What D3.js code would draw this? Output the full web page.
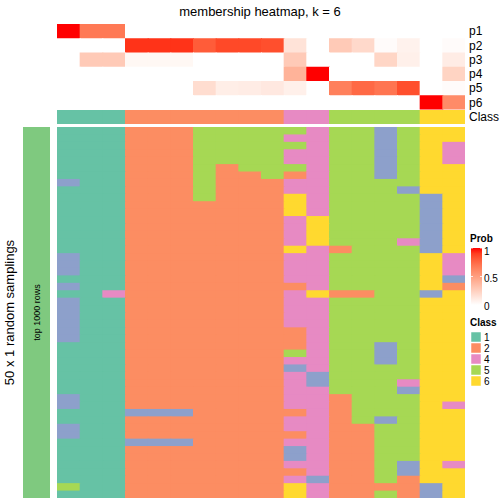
<!DOCTYPE html>
<html><head><meta charset="utf-8">
<script src="https://cdn.jsdelivr.net/npm/d3@7"></script>
<style>body{margin:0;background:#fff}svg{display:block}text{font-family:"Liberation Sans",Arial,Helvetica,sans-serif}</style>
</head><body>
<svg id="c" width="504" height="504"></svg>
<script>
const title = "membership heatmap, k = 6";
const probLabels = ["p1","p2","p3","p4","p5","p6"];
const p1 = [1,0.68,0.68,0,0,0,0,0,0,0,0,0,0,0,0,0,0,0];
const p2 = [0,0,0,0.93,0.93,0.93,0.8,0.87,0.87,0.85,0.15,0,0.28,0.2,0.02,0.07,0,0.02];
const p3 = [0,0.28,0.28,0.04,0.04,0.04,0,0,0,0,0.28,0,0,0,0.22,0.08,0,0.1];
const p4 = [0,0,0,0,0,0,0,0,0,0,0.4,1,0,0,0,0,0,0.23];
const p5 = [0,0,0,0,0,0,0.18,0.09,0.1,0.12,0.08,0,0.65,0.75,0.7,0.85,0,0.02];
const p6 = [0,0,0,0,0,0,0,0,0,0,0,0,0,0,0,0,1,0.6];
const classRow = [1,1,1,2,2,2,2,2,2,2,4,4,5,5,5,5,6,6];
const classKeys = [1,2,3,4,5,6];
const classColors = ["#66C2A5","#FC8D62","#8DA0CB","#E78AC3","#A6D854","#FFD92F"];
const legendClasses = ["1","2","4","5","6"];
const probTicks = [1,0.5,0];
const samplings = [
"111222555554553566","111222555544553566","111222555554553564","111222555544553564","111222555544553564",
"111222525554553566","111222522524553566","311222522244555566","111222522244555366","111222522264555536",
"111222222264555536","111222222264555536","111222222246555536","111222222246555536","111222222246555536",
"111222222246555436","111222222264255536","311222222244555564","311222222244555564","311222222244555564",
"111222222244555563","311222222224555562","114222222246225536","311222222244555566","311222222244555566",
"311222222244555566","311222222244555566","311222222224555566","311222222224555566","111222222224553566",
"111222222254553566","111222222244553566","111222222234555566","111222222243555566","111222222243555466",
"111222222244555366","311222222244255566","311222222244255564","111333222224255566","111222222244253566",
"311222222244225566","311222222224225566","111333222244225566","111222222234225566","111222222234225566",
"111222222244225364","111222222224225366","111222222243225266","511222222264222236","111222222264225236"
];

const svg = d3.select("#c");
const nCol = classRow.length;
const x = d3.scaleBand().domain(d3.range(nCol)).range([57,465]).paddingInner(0);
const probColor = d3.scaleLinear().domain([0,1]).range(["#ffffff","#ff0000"]).interpolate(d3.interpolateLab);
const clsColor = d3.scaleOrdinal().domain(classKeys).range(classColors);
// widths overlap the next cell by 1px (except last) to hide anti-aliasing seams
const cw = j => x.bandwidth() + (j < nCol-1 ? 1 : 0);

svg.append("text").attr("x",260).attr("y",16).attr("text-anchor","middle").attr("font-size",13).text(title);

const probs = [p1,p2,p3,p4,p5,p6];
const yP = d3.scaleBand().domain(probLabels).range([24,109.5]);
probs.forEach((arr,i)=>{
  svg.append("g").selectAll("rect").data(arr).join("rect")
    .attr("x",(d,j)=>x(j)).attr("y",yP(probLabels[i]))
    .attr("width",(d,j)=>cw(j)).attr("height",yP.bandwidth()+(i<5?1:0))
    .attr("fill",d=>probColor(d));
});
probs.forEach((arr,i)=>{
  svg.append("text").attr("x",469).attr("y",yP(probLabels[i])+yP.bandwidth()/2)
    .attr("dy","0.35em").attr("font-size",12).text(probLabels[i]);
});
// class annotation
svg.append("g").selectAll("rect").data(classRow).join("rect")
  .attr("x",(d,j)=>x(j)).attr("y",110).attr("width",(d,j)=>cw(j)).attr("height",14)
  .attr("fill",d=>clsColor(d));
svg.append("text").attr("x",469).attr("y",117).attr("dy","0.35em").attr("font-size",12).text("Class");

// main heatmap
const yM = d3.scaleBand().domain(d3.range(samplings.length)).range([127,498]);
const cells = [];
samplings.forEach((s,r)=>{ for(let c=0;c<s.length;c++) cells.push({r,c,v:+s[c]}); });
svg.append("g").selectAll("rect").data(cells).join("rect")
  .attr("x",d=>x(d.c)).attr("y",d=>yM(d.r))
  .attr("width",d=>cw(d.c)).attr("height",d=>yM.bandwidth()+(d.r<samplings.length-1?1:0))
  .attr("fill",d=>clsColor(d.v));

// left bar
svg.append("rect").attr("x",23).attr("y",127).attr("width",27).attr("height",371).attr("fill","#7FC97F");
svg.append("text").attr("transform","translate(40,312.5) rotate(-90)").attr("text-anchor","middle")
  .attr("font-size",9).text("top 1000 rows");
svg.append("text").attr("transform","translate(14,312.5) rotate(-90)").attr("text-anchor","middle")
  .attr("font-size",13).text("50 x 1 random samplings");

// prob legend
svg.append("text").attr("x",470).attr("y",242).attr("font-size",10).attr("font-weight","bold").text("Prob");
const defs = svg.append("defs");
const grad = defs.append("linearGradient").attr("id","pg").attr("x1",0).attr("y1",1).attr("x2",0).attr("y2",0);
d3.range(0,1.0001,0.1).forEach(t=>grad.append("stop").attr("offset",t).attr("stop-color",probColor(t)));
const yL = d3.scaleLinear().domain([0,1]).range([305,248]);
const yLab = d3.scaleLinear().domain([0,1]).range([306,251]);
svg.append("rect").attr("x",471).attr("y",248).attr("width",11).attr("height",57).attr("fill","url(#pg)");
probTicks.forEach(t=>{
  svg.append("line").attr("x1",471).attr("x2",473).attr("y1",yL(t)).attr("y2",yL(t)).attr("stroke","#fff").attr("stroke-width",0.8);
  svg.append("line").attr("x1",480).attr("x2",482).attr("y1",yL(t)).attr("y2",yL(t)).attr("stroke","#fff").attr("stroke-width",0.8);
  svg.append("text").attr("x",484).attr("y",yLab(t)).attr("dy","0.35em").attr("font-size",10).text(t);
});

// class legend
svg.append("text").attr("x",470).attr("y",326).attr("font-size",10).attr("font-weight","bold").text("Class");
legendClasses.forEach((k,i)=>{
  svg.append("rect").attr("x",471).attr("y",332+11*i).attr("width",10).attr("height",10)
    .attr("fill",clsColor(+k)).attr("stroke","#fff").attr("stroke-width",0.5);
  svg.append("text").attr("x",484).attr("y",337+11*i).attr("dy","0.35em").attr("font-size",10).text(k);
});
</script>
</body></html>
